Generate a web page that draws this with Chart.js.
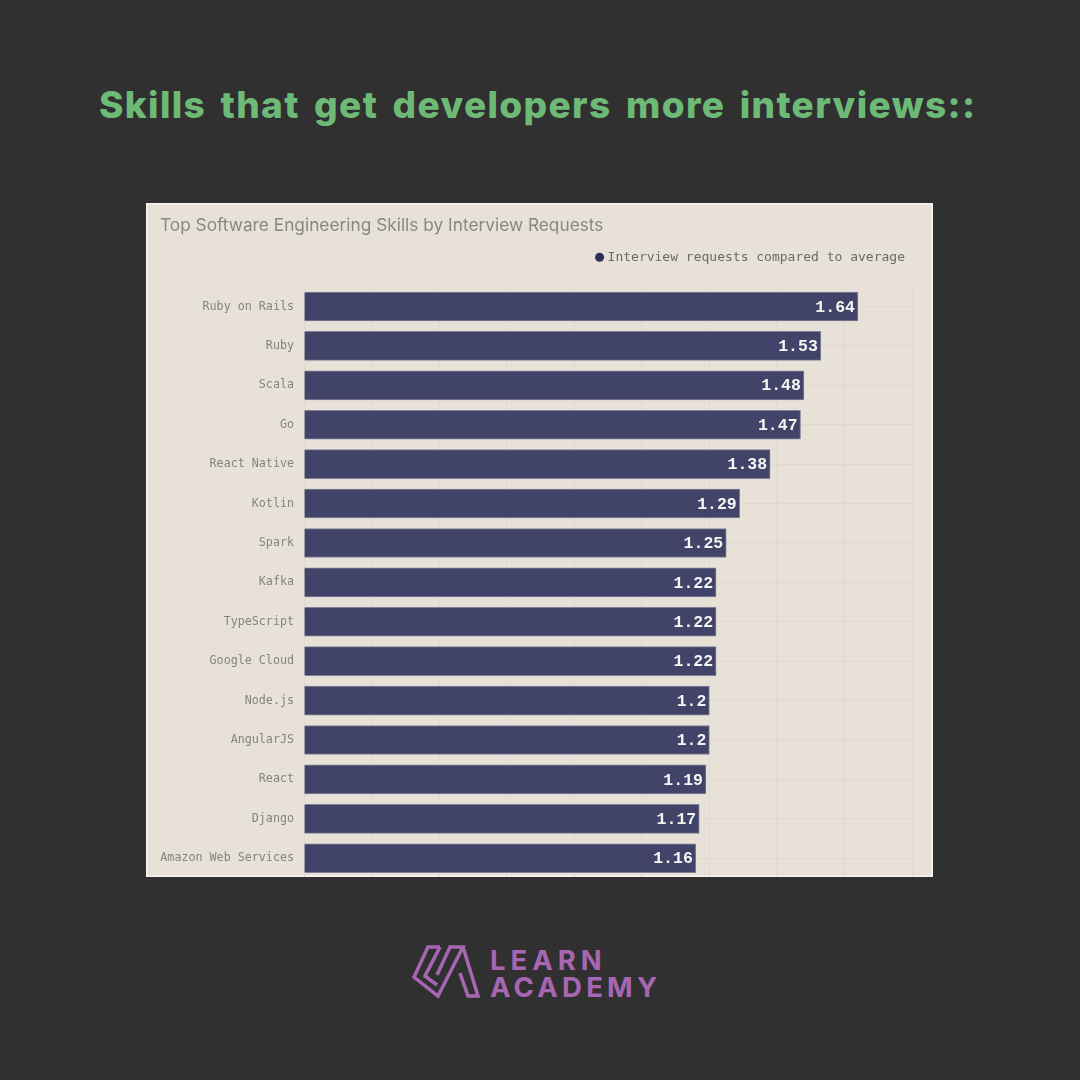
<!DOCTYPE html>
<html>
<head>
<meta charset="utf-8">
<script src="https://cdn.jsdelivr.net/npm/chart.js@4"></script>
<style>
  html, body {margin: 0; padding: 0; background: #313031; width: 1080px; height: 1080px; overflow: hidden;}
  #titulo {position: absolute; left: 99px; top: 82px; font: 800 37px Inter, sans-serif; color: #6db976; letter-spacing: 1.35px; word-spacing: 5px; white-space: nowrap;}
  #panel {position: absolute; left: 146px; top: 203px; width: 787px; height: 674px; background: #e8e1d8; box-shadow: inset 0 0 0 1.5px #f6f3ee; overflow: hidden;}
  #logo {position: absolute; left: 412px; top: 944px;}
  .marca {position: absolute; left: 490px; font: 700 27.5px Inter, sans-serif; color: #a766b2; line-height: 30px; white-space: nowrap;}
</style>
</head>
<body>
<div id="titulo">Skills that get developers more interviews::</div>
<!-- el lienzo es mas alto que el panel: el eje Y deja un margen abajo y la ultima barra queda pegada al borde -->
<div id="panel"><canvas id="grafico" width="787" height="692"></canvas></div>
<svg id="logo" width="70" height="56" viewBox="0 0 70 56" fill="none" stroke="#a766b2" stroke-width="3.5" stroke-linejoin="miter">
  <path d="M28 3 H16 L2 33 L26 52 L51 3 H38 L25 31"/>
  <path d="M28 3 L13 32 L25 41"/>
  <path d="M51 3 L66 52 H56 L48 29"/>
</svg>
<div class="marca" style="top:945px; letter-spacing:5px">LEARN</div>
<div class="marca" style="top:972px; letter-spacing:4.2px">ACADEMY</div>

<script>
const habilidades = ['Ruby on Rails', 'Ruby', 'Scala', 'Go', 'React Native', 'Kotlin', 'Spark', 'Kafka', 'TypeScript', 'Google Cloud', 'Node.js', 'AngularJS', 'React', 'Django', 'Amazon Web Services'];
const solicitudes = [1.64, 1.53, 1.48, 1.47, 1.38, 1.29, 1.25, 1.22, 1.22, 1.22, 1.2, 1.2, 1.19, 1.17, 1.16];
const ticksX = [0, 0.2, 0.4, 0.6, 0.8, 1, 1.2, 1.4, 1.6, 1.8];

// etiquetas blancas dentro de cada barra
const etiquetas = {
  id: 'etiquetas',
  afterDatasetsDraw(chart) {
    const ctx = chart.ctx;
    ctx.save();
    ctx.font = 'bold 16.5px "Liberation Mono", monospace';
    ctx.fillStyle = '#f7f6f4';
    ctx.textAlign = 'right';
    ctx.textBaseline = 'middle';
    chart.getDatasetMeta(0).data.forEach((barra, i) => {
      ctx.fillText(String(solicitudes[i]), barra.x - 3, barra.y + 1);
    });
    ctx.restore();
  }
};

new Chart(document.getElementById('grafico'), {
  type: 'bar',
  plugins: [etiquetas],
  data: {
    labels: habilidades,
    datasets: [{
      label: 'Interview requests compared to average',
      data: solicitudes,
      backgroundColor: '#414369',
      borderColor: '#7f8098',
      borderWidth: 1,
      barThickness: 29
    }]
  },
  options: {
    indexAxis: 'y',
    responsive: false,
    animation: false,
    layout: {padding: {left: 14, right: 21}},
    scales: {
      x: {
        position: 'top',
        min: 0, max: 1.8,
        afterBuildTicks: (eje) => { eje.ticks = ticksX.map(v => ({value: v})); },
        ticks: {display: false},
        border: {display: false},
        grid: {color: '#e0d9d2', drawTicks: false},
        afterFit: (eje) => { eje.height = 13; }
      },
      y: {
        ticks: {color: '#86827e', font: {family: '"DejaVu Sans Mono", monospace', size: 11.7}, padding: 10},
        border: {display: false},
        grid: {color: '#e0d9d2', offset: false, drawTicks: false},
        afterFit: (eje) => { eje.width = 144; }
      }
    },
    plugins: {
      title: {
        display: true,
        text: 'Top Software Engineering Skills by Interview Requests',
        align: 'start',
        color: '#8a8783',
        font: {family: 'Inter, sans-serif', size: 17.3, weight: 'normal'},
        padding: {top: 12, bottom: 8}
      },
      legend: {
        position: 'top',
        align: 'end',
        labels: {
          color: '#6b6966',
          font: {family: '"DejaVu Sans Mono", monospace', size: 13},
          usePointStyle: true, pointStyle: 'circle', boxWidth: 3, boxHeight: 6.4, padding: 7,
          generateLabels: (chart) => [{text: chart.data.datasets[0].label, fontColor: '#6b6966', fillStyle: '#2d2e5e', strokeStyle: '#2d2e5e', lineWidth: 0, pointStyle: 'circle'}]
        }
      },
      tooltip: {enabled: false}
    }
  }
});
</script>
</body>
</html>
